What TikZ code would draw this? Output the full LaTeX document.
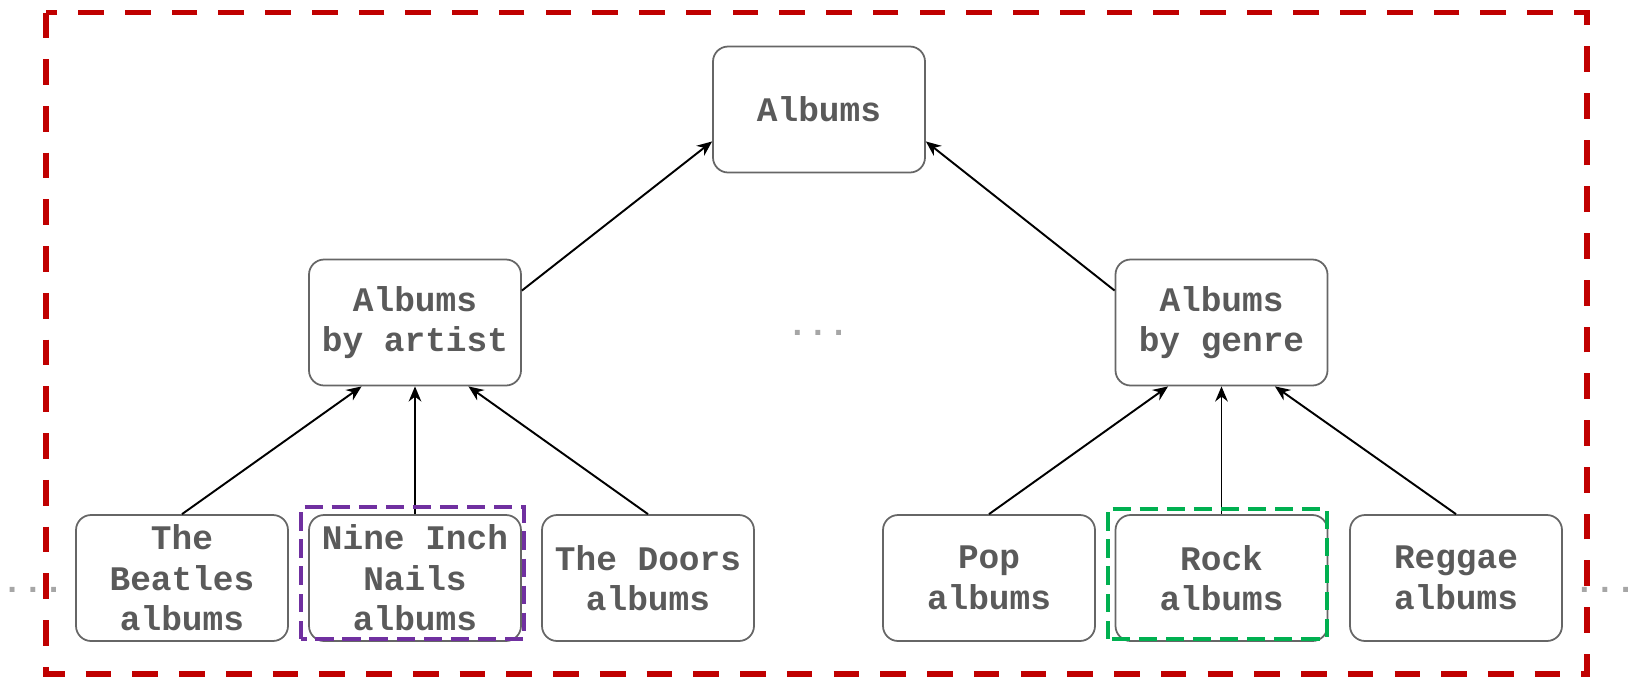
\documentclass[tikz,border=0pt]{standalone}
\usepackage{fontspec}
\setmonofont{Liberation Mono}
\usepackage{tikz}
\usetikzlibrary{arrows.meta,calc}
\definecolor{BoxLine}{HTML}{666666}
\definecolor{BoxText}{HTML}{5A5A5A}
\definecolor{FrameRed}{HTML}{C00000}
\definecolor{MarkPurple}{HTML}{7030A0}
\definecolor{MarkGreen}{HTML}{00B050}

\begin{document}
\begin{tikzpicture}[
box/.style={draw=BoxLine,line width=0.5pt,rounded corners=4.3pt,fill=white,minimum width=2.12cm,minimum height=1.26cm,inner sep=1pt,align=center,text=BoxText,font=\fontsize{9.8}{11.5}\selectfont\ttfamily\bfseries},
dots/.style={text=gray!70,font=\fontsize{9.8}{11.5}\selectfont\ttfamily\bfseries},
arr/.style={-{Stealth[length=4.3pt,width=3.6pt]},line width=0.55pt,draw=black},
redframe/.style={draw=FrameRed,line width=1.5pt,dash pattern=on 7.3pt off 6pt},
hilite/.style={line width=1.1pt,dash pattern=on 5.2pt off 2.5pt}
]
\useasboundingbox (0,0) rectangle (16.33,-6.80);
\node[box] (top) at (8.19,-1.095) {Albums};
\node[box] (artist) at (4.15,-3.225) {Albums\\by artist};
\node[box] (genre) at (12.215,-3.225) {Albums\\by genre};
\node[dots] (middots) at (8.18,-3.33) {...};
\node[box] (beatles) at (1.82,-5.78) {The\\Beatles\\albums};
\node[box] (nin) at (4.15,-5.78) {Nine Inch\\Nails\\albums};
\node[box] (doors) at (6.48,-5.78) {The Doors\\albums};
\node[box] (pop) at (9.89,-5.78) {Pop\\albums};
\node[box] (rock) at (12.215,-5.78) {Rock\\albums};
\node[box] (reggae) at (14.56,-5.78) {Reggae\\albums};
\node[dots] (leftdots) at (0.33,-5.90) {...};
\node[dots] (rightdots) at (16.05,-5.90) {...};
\draw[arr] ($(artist.east)!0.5!(artist.north east)$) -- ($(top.west)!0.5!(top.south west)$);
\draw[arr] ($(genre.west)!0.5!(genre.north west)$) -- ($(top.east)!0.5!(top.south east)$);
\draw[arr] (beatles.north) -- ($(artist.south)!0.5!(artist.south west)$);
\draw[arr] (nin.north) -- (artist.south);
\draw[arr] (doors.north) -- ($(artist.south)!0.5!(artist.south east)$);
\draw[arr] (pop.north) -- ($(genre.south)!0.5!(genre.south west)$);
\draw[arr] (rock.north) -- (genre.south);
\draw[arr] (reggae.north) -- ($(genre.south)!0.5!(genre.south east)$);
\draw[hilite,draw=MarkPurple] ($(nin.south west)+(-0.07,0.03)$) rectangle ($(nin.north east)+(0.02,0.07)$);
\draw[hilite,draw=MarkGreen] ($(rock.south west)+(-0.07,0.03)$) rectangle ($(rock.north east)+(-0.015,0.055)$);
\draw[redframe] (0.46,-0.125) rectangle (15.87,-6.74);
\end{tikzpicture}
\end{document}
